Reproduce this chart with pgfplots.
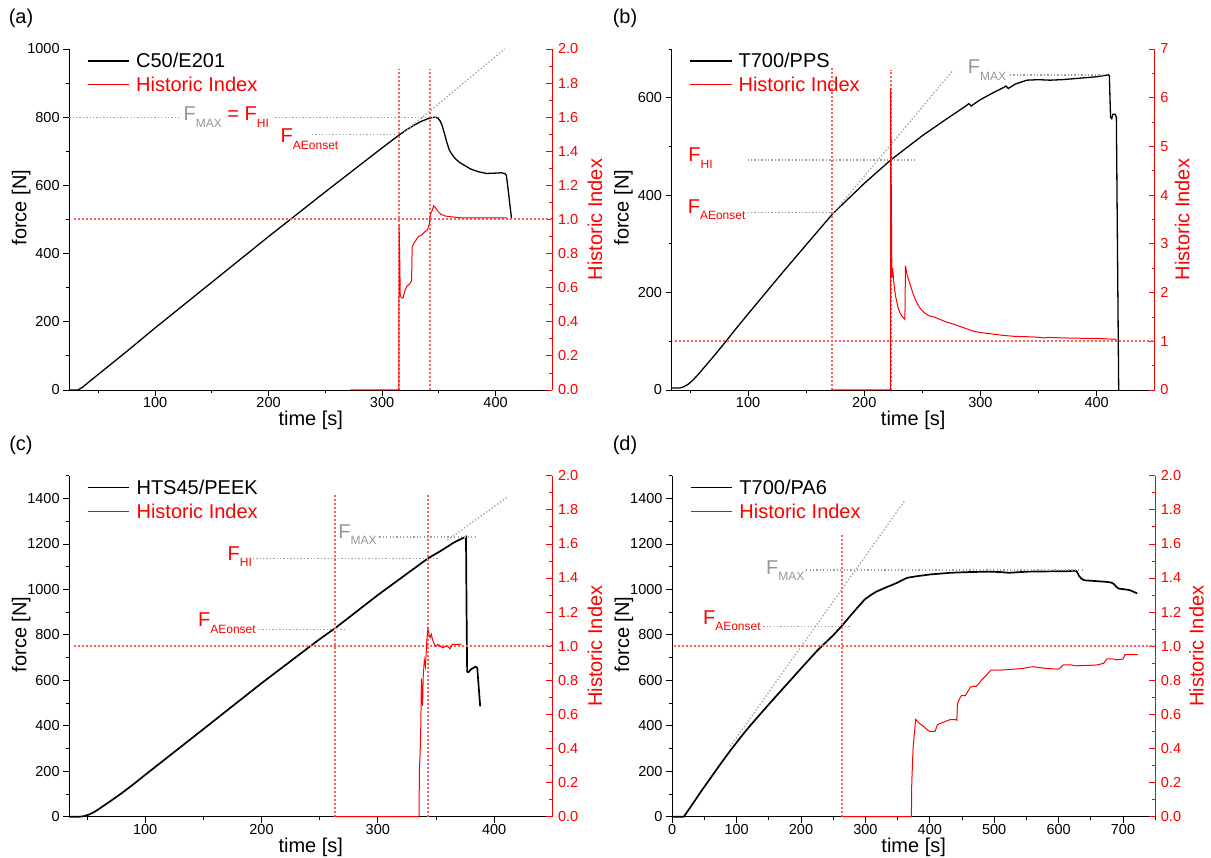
\documentclass[border=0pt]{standalone}
\usepackage{fontspec}
\setmainfont{Liberation Sans}
\usepackage{pgfplots}
\pgfplotsset{compat=1.18}

\definecolor{hired}{RGB}{255,0,0}
\definecolor{rdotc}{RGB}{255,95,95}
\definecolor{fgray}{RGB}{160,160,160}
\definecolor{tgray}{RGB}{150,150,150}

\newcommand{\fA}{\fontsize{20}{24}\selectfont}
\newcommand{\fB}{\fontsize{14.5}{17}\selectfont}
\newcommand{\sub}[1]{\raisebox{-6.5pt}{\fontsize{12}{14}\selectfont #1}}

\pgfplotsset{
  /pgf/number format/assume math mode=true,
  /pgf/number format/1000 sep={},
  forceax/.style={
    scale only axis, width=483pt, height=341pt,
    axis x line*=bottom, axis y line*=left,
    axis line style={-, black, line width=0.9pt},
    tick align=outside, major tick length=6pt, minor tick length=3pt,
    tick style={black, line width=0.8pt},
    tick label style={font=\fB},
    xticklabel style={inner sep=1.5pt},
    yticklabel style={inner sep=3.5pt},
    xlabel={time [s]}, ylabel={force [N]},
    label style={font=\fA},
    x label style={at={(axis description cs:0.5,0)}, anchor=base, yshift=-36pt},
    y label style={at={(axis description cs:-0.089,0.535)}, anchor=base},
    clip=false,
    legend style={draw=none, fill=none, font=\fA, at={(axis description cs:0.036,0.995)},
      anchor=north west, inner sep=0pt, row sep=4pt, cells={anchor=west}},
    legend image code/.code={\draw[##1] (0pt,0pt) -- (41.7pt,0pt); \path (46pt,0pt);},
  },
  hiax/.style={
    scale only axis, width=483pt, height=341pt,
    axis x line=none, xtick=\empty, axis y line*=right,
    axis line style={-, hired, line width=0.9pt},
    tick align=inside, major tick length=6pt, minor tick length=3pt,
    tick style={hired, line width=0.8pt},
    tick label style={font=\fB},
    yticklabel style={text=hired, inner sep=5.5pt},
    ylabel={Historic Index},
    y label style={font=\fA, text=hired, anchor=base},
    clip=false,
  },
  forceline/.style={black, line width=1.3pt},
  hiline/.style={hired, line width=1pt},
  fdot/.style={color=fgray, line width=1.3pt, dash pattern=on 1.3pt off 2.1pt},
  rdot/.style={color=rdotc, line width=2pt, dash pattern=on 2pt off 2pt},
}

\begin{document}
\begin{tikzpicture}
\path[use as bounding box] (0,0) rectangle (1211pt,-858pt);

\node[font=\fA] at (21pt,-18pt) {(a)};
\node[font=\fA] at (625pt,-18pt) {(b)};
\node[font=\fA] at (21pt,-445pt) {(c)};
\node[font=\fA] at (625pt,-445pt) {(d)};

% ---------------- (a) ----------------
\begin{axis}[forceax, at={(69.3pt,-390pt)}, anchor=south west,
  xmin=24.4, xmax=450, ymin=0, ymax=1000,
  xtick={100,200,300,400}, minor xtick={50,150,250,350},
  ytick={0,200,400,600,800,1000}, minor ytick={100,300,500,700,900}]
\addplot[forceline] coordinates {(24.4,0) (32,0) (36,8) (40,19) (50,46) (75,113) (100,182)
  (150,316) (200,450) (250,581) (300,710) (310,735) (316,750) (322,764) (328,776)
  (334,787) (340,795) (344,799) (347,800) (349,797) (351,790) (353,775) (355,752)
  (357,727) (359,706) (361,694) (364,680) (368,668) (372,660) (378,648) (385,640)
  (392,635) (400,636) (405,637) (408,635) (409.5,630) (411,590) (414,505)};
\addlegendentry{C50/E201}
\addlegendimage{hiline}
\addlegendentry{\textcolor{hired}{Historic Index}}
\addplot[fdot, forget plot] coordinates {(24.4,800) (122.7,800)};
\addplot[fdot, forget plot] coordinates {(205.9,800) (351.3,800)};
\addplot[fdot, forget plot] coordinates {(238.2,750) (313,750)};
\addplot[fdot, forget plot] coordinates {(320,757) (408,1000)};
\node[anchor=base west, inner sep=0pt, font=\fA, text=tgray] at (axis cs:125,789)
  {F\sub{MAX} \textcolor{hired}{= F\sub{HI}}};
\node[anchor=base west, inner sep=0pt, font=\fA, text=hired] at (axis cs:210.5,725)
  {F\sub{AEonset}};
\end{axis}
\begin{axis}[hiax, at={(69.3pt,-390pt)}, anchor=south west,
  xmin=24.4, xmax=450, ymin=0, ymax=2,
  ytick={0,0.2,0.4,0.6,0.8,1,1.2,1.4,1.6,1.8,2},
  minor ytick={0.1,0.3,0.5,0.7,0.9,1.1,1.3,1.5,1.7,1.9},
  yticklabel style={/pgf/number format/.cd, fixed, fixed zerofill, precision=1},
  y label style={at={(axis description cs:1.103,0.5)}}]
\addplot[rdot] coordinates {(28.8,1) (450,1)};
\addplot[rdot] coordinates {(314.7,0) (314.7,1.883)};
\addplot[rdot] coordinates {(341.8,0) (341.8,1.883)};
\addplot[hiline] coordinates {(272,0) (314.8,0) (315,0.97) (315.6,0.75) (316,0.56)
  (317,0.54) (318.5,0.54) (320,0.58) (322,0.61) (324,0.62) (326,0.64) (326.5,0.84)
  (328,0.86) (330,0.88) (332,0.90) (335,0.91) (338,0.93) (340,0.94) (341.5,0.97)
  (342.5,1.03) (344,1.05) (345.5,1.08) (347,1.07) (349,1.05) (352,1.03) (356,1.02)
  (362,1.015) (370,1.01) (385,1.01) (400,1.01) (410,1.01)};
\end{axis}

% ---------------- (b) ----------------
\begin{axis}[forceax, at={(671.7pt,-390pt)}, anchor=south west,
  xmin=34.3, xmax=450, ymin=0, ymax=700,
  xtick={100,200,300,400}, minor xtick={50,150,250,350},
  ytick={0,200,400,600}, minor ytick={100,300,500,700}]
\addplot[forceline] coordinates {(34.3,4) (41,4) (44,6) (48,11) (52,19) (56,29) (60,40)
  (65,54) (70,68) (80,97) (90,127) (100,156) (115,199) (130,242) (150,298) (173,362)
  (200,424) (222.7,472) (250,522) (270,555) (288,584) (290,588) (292,583) (300,596)
  (310,609) (320,621) (322,624) (324,619) (330,628) (340,636) (350,637) (360,636)
  (370,637) (380,639) (390,641) (400,643) (408,646) (410,647) (411,645) (411.5,600)
  (412,560) (413,557) (414,566) (416,566) (417,560) (418,280) (419,0)};
\addlegendentry{T700/PPS}
\addlegendimage{hiline}
\addlegendentry{\textcolor{hired}{Historic Index}}
\addplot[fdot, forget plot] coordinates {(325.3,646.6) (407.2,646.6)};
\addplot[fdot, forget plot] coordinates {(99.7,472) (243.5,472)};
\addplot[fdot, forget plot] coordinates {(99.7,364) (173.3,364)};
\addplot[fdot, forget plot] coordinates {(173.3,362.6) (276.2,655.5)};
\node[anchor=base west, inner sep=0pt, font=\fA, text=tgray] at (axis cs:289,648.7)
  {F\sub{MAX}};
\node[anchor=base west, inner sep=0pt, font=\fA, text=hired] at (axis cs:48.5,468.5)
  {F\sub{HI}};
\node[anchor=base west, inner sep=0pt, font=\fA, text=hired] at (axis cs:48,362.6)
  {F\sub{AEonset}};
\end{axis}
\begin{axis}[hiax, at={(671.7pt,-390pt)}, anchor=south west,
  xmin=34.3, xmax=450, ymin=0, ymax=7,
  ytick={0,1,2,3,4,5,6,7}, minor ytick={0.5,1.5,2.5,3.5,4.5,5.5,6.5},
  y label style={at={(axis description cs:1.072,0.5)}}]
\addplot[rdot] coordinates {(36.9,1) (450,1)};
\addplot[rdot] coordinates {(172.6,0) (172.6,6.64)};
\addplot[rdot] coordinates {(222.7,0) (222.7,6.57)};
\addplot[hiline] coordinates {(172.6,0) (222.6,0) (222.8,6.2) (223.3,4.0) (223.8,2.3)
  (224.5,2.5) (225.5,2.2) (227,1.92) (229,1.7) (231,1.57) (233,1.5) (235,1.45)
  (235.5,2.55) (237,2.35) (239,2.2) (242,1.98) (245,1.8) (248,1.68) (252,1.58)
  (256,1.52) (260,1.5) (265,1.45) (270,1.4) (277,1.35) (283,1.3) (290,1.24) (295,1.2)
  (300,1.18) (310,1.15) (320,1.12) (330,1.1) (345,1.09) (355,1.07) (358,1.08)
  (370,1.07) (390,1.06) (400,1.06) (417,1.04)};
\end{axis}

% ---------------- (c) ----------------
\begin{axis}[forceax, at={(69.3pt,-816.7pt)}, anchor=south west,
  xmin=34.8, xmax=450, ymin=0, ymax=1500,
  xtick={100,200,300,400}, minor xtick={50,150,250,350},
  ytick={0,200,400,600,800,1000,1200,1400}, minor ytick={100,300,500,700,900,1100,1300,1500}]
\addplot[forceline, line width=1.7pt] coordinates {(34.8,0) (44,0) (48,3) (52,10) (56,20)
  (60,33) (70,68) (80,104) (90,143) (100,184) (150,385) (200,587) (250,781) (263,828)
  (300,975) (343,1136) (355,1172) (365,1205) (370,1218) (375,1230) (375.8,1232)
  (376.3,900) (376.8,638) (378,636) (380,648) (384,660) (385.5,655) (388,485)};
\addlegendentry{HTS45/PEEK}
\addlegendimage{hiline}
\addlegendentry{\textcolor{hired}{Historic Index}}
\addplot[fdot, forget plot] coordinates {(301.3,1231) (385,1231)};
\addplot[fdot, forget plot] coordinates {(192.6,1135) (353.2,1135)};
\addplot[fdot, forget plot] coordinates {(197.7,824) (272.9,824)};
\addplot[fdot, forget plot] coordinates {(359.9,1217) (411.7,1407)};
\node[anchor=base west, inner sep=0pt, font=\fA, text=tgray] at (axis cs:266,1224)
  {F\sub{MAX}};
\node[anchor=base west, inner sep=0pt, font=\fA, text=hired] at (axis cs:170.8,1129)
  {F\sub{HI}};
\node[anchor=base west, inner sep=0pt, font=\fA, text=hired] at (axis cs:145.4,836)
  {F\sub{AEonset}};
\end{axis}
\begin{axis}[hiax, at={(69.3pt,-816.7pt)}, anchor=south west,
  xmin=34.8, xmax=450, ymin=0, ymax=2,
  ytick={0,0.2,0.4,0.6,0.8,1,1.2,1.4,1.6,1.8,2},
  minor ytick={0.1,0.3,0.5,0.7,0.9,1.1,1.3,1.5,1.7,1.9},
  yticklabel style={/pgf/number format/.cd, fixed, fixed zerofill, precision=1},
  y label style={at={(axis description cs:1.103,0.5)}}]
\addplot[rdot] coordinates {(38.8,1) (450,1)};
\addplot[rdot] coordinates {(263.2,0) (263.2,1.886)};
\addplot[rdot] coordinates {(343.1,0) (343.1,1.886)};
\addplot[hiline] coordinates {(263.2,0) (335.4,0) (335.8,0.28) (336.5,0.4) (337,0.55)
  (337.5,0.81) (338,0.7) (338.5,0.65) (339,0.82) (340,0.92) (341,0.88) (341.5,0.95)
  (342,1.02) (343,1.1) (344,1.07) (345,1.05) (346,1.07) (347,1.04) (348,1.02) (350,1.0)
  (352,1.01) (354,1.0) (356,0.99) (358,1.0) (360,1.0) (362,0.985) (364,1.01) (368,1.01)
  (372,1.012)};
\end{axis}

% ---------------- (d) ----------------
\begin{axis}[forceax, at={(672.2pt,-816.7pt)}, anchor=south west,
  xmin=0, xmax=750, ymin=0, ymax=1500,
  xtick={0,100,200,300,400,500,600,700}, minor xtick={50,150,250,350,450,550,650,750},
  ytick={0,200,400,600,800,1000,1200,1400}, minor ytick={100,300,500,700,900,1100,1300,1500}]
\addplot[forceline, line width=1.7pt] coordinates {(0,0) (18,0) (30,49) (46,116) (60,172)
  (75,232) (90,290) (105,345) (120,397) (140,462) (160,526) (180,589) (200,652) (225,730)
  (250,798) (263,838) (280,895) (299,956) (305,968) (310,978) (317,990) (325,1000)
  (333,1010) (341,1019) (350,1030) (358,1042) (365,1051) (380,1058) (402,1066)
  (432,1073) (460,1076) (492,1078) (510,1076) (523,1073) (540,1076) (553,1078)
  (580,1079) (613,1080) (627,1082) (629,1075) (632,1058) (636,1046) (640,1040)
  (650,1038) (660,1036) (674,1033) (682,1030) (686,1023) (690,1010) (694,1003)
  (700,1001) (710,997) (716,990) (722,982)};
\addlegendentry{T700/PA6}
\addlegendimage{hiline}
\addlegendentry{\textcolor{hired}{Historic Index}}
\addplot[fdot, forget plot] coordinates {(208,1085) (635.8,1085)};
\addplot[fdot, forget plot] coordinates {(141.6,836) (277.7,836)};
\addplot[fdot, forget plot] coordinates {(90.1,309) (360.6,1388)};
\node[anchor=base west, inner sep=0pt, font=\fA, text=tgray] at (axis cs:145.6,1067)
  {F\sub{MAX}};
\node[anchor=base west, inner sep=0pt, font=\fA, text=hired] at (axis cs:47.6,846)
  {F\sub{AEonset}};
\end{axis}
\begin{axis}[hiax, at={(672.2pt,-816.7pt)}, anchor=south west,
  xmin=0, xmax=750, ymin=0, ymax=2,
  ytick={0,0.2,0.4,0.6,0.8,1,1.2,1.4,1.6,1.8,2},
  minor ytick={0.1,0.3,0.5,0.7,0.9,1.1,1.3,1.5,1.7,1.9},
  yticklabel style={/pgf/number format/.cd, fixed, fixed zerofill, precision=1},
  y label style={at={(axis description cs:1.1,0.5)}}]
\addplot[rdot] coordinates {(2.4,1) (750,1)};
\addplot[rdot] coordinates {(263,0) (263,1.652)};
\addplot[hiline] coordinates {(263,0) (371.4,0) (372,0.2) (374,0.4) (378,0.57) (383,0.55)
  (390,0.53) (396,0.51) (400,0.5) (408,0.5) (412,0.54) (418,0.55) (425,0.56) (432,0.57)
  (440,0.57) (442,0.565) (443,0.66) (446,0.69) (449,0.71) (455,0.71) (460,0.74)
  (463,0.76) (468,0.765) (472,0.765) (476,0.78) (480,0.8) (488,0.83) (495,0.86)
  (510,0.86) (530,0.865) (545,0.87) (560,0.88) (580,0.87) (600,0.865) (603,0.875)
  (607,0.89) (620,0.89) (626,0.885) (650,0.888) (660,0.89) (670,0.9) (675,0.925)
  (685,0.925) (690,0.92) (700,0.925) (703,0.95) (723,0.95)};
\end{axis}
\end{tikzpicture}
\end{document}
